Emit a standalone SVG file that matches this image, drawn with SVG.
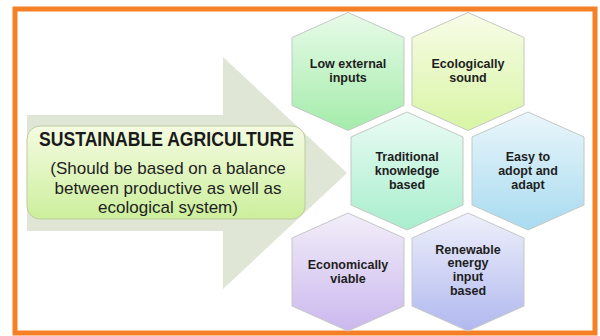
<svg xmlns="http://www.w3.org/2000/svg" width="600" height="336" viewBox="0 0 600 336">
<defs>
<linearGradient id="gBox" x1="0" y1="0" x2="0" y2="1"><stop offset="0" stop-color="#f4fbe2"/><stop offset="1" stop-color="#cdef9c"/></linearGradient>
<linearGradient id="g1" x1="0" y1="0" x2="0" y2="1"><stop offset="0" stop-color="#e8fbe9"/><stop offset="1" stop-color="#a4ecaa"/></linearGradient>
<linearGradient id="g2" x1="0" y1="0" x2="0" y2="1"><stop offset="0" stop-color="#f8fce8"/><stop offset="1" stop-color="#d8f5a4"/></linearGradient>
<linearGradient id="g3" x1="0" y1="0" x2="0" y2="1"><stop offset="0" stop-color="#eafbf4"/><stop offset="1" stop-color="#a8eecd"/></linearGradient>
<linearGradient id="g4" x1="0" y1="0" x2="0" y2="1"><stop offset="0" stop-color="#eaf6fb"/><stop offset="1" stop-color="#a8dbef"/></linearGradient>
<linearGradient id="g5" x1="0" y1="0" x2="0" y2="1"><stop offset="0" stop-color="#f2eef9"/><stop offset="1" stop-color="#cbb8ee"/></linearGradient>
<linearGradient id="g6" x1="0" y1="0" x2="0" y2="1"><stop offset="0" stop-color="#eef0fb"/><stop offset="1" stop-color="#b1b8ef"/></linearGradient>
<polygon id="hex" points="0,-59 56,-34 56,34 0,59 -56,34 -56,-34"/>
</defs>
<style>
.hx{stroke:#c4c8c4;stroke-width:1}
.ht{font-family:"Liberation Sans",Arial,sans-serif;font-weight:bold;font-size:12.5px;fill:#1e1e1e;text-anchor:middle}
.sub{font-family:"Liberation Sans",Arial,sans-serif;font-size:17px;fill:#1e1e1e;text-anchor:middle}
</style>
<rect x="0" y="0" width="600" height="336" fill="#ffffff"/>
<rect x="15" y="9" width="580" height="324" fill="#ffffff" stroke="#f58025" stroke-width="5"/>
<g id="arrow">
<polygon points="27,115 223,115 223,57 347,173 223,289 223,231 27,231" fill="#dfe6d5"/>
</g>
<g id="main">
<rect x="27" y="126" width="278" height="93" rx="13" fill="url(#gBox)" stroke="#bccca0" stroke-width="1"/>
<text x="166.5" y="146" font-family="'Liberation Sans',Arial,sans-serif" font-weight="bold" font-size="19.5" fill="#1a1a1a" text-anchor="middle" textLength="255" lengthAdjust="spacingAndGlyphs">SUSTAINABLE AGRICULTURE</text>
<text class="sub" x="168" y="174">(Should be based on a balance</text>
<text class="sub" x="168" y="193.5">between productive as well as</text>
<text class="sub" x="168" y="213">ecological system)</text>
</g>
<g id="hex1" transform="translate(348,71.5)">
<use href="#hex" class="hx" fill="url(#g1)"/>
<text class="ht" y="-3.5">Low external</text>
<text class="ht" y="10">inputs</text>
</g>
<g id="hex2" transform="translate(468,71.5)">
<use href="#hex" class="hx" fill="url(#g2)"/>
<text class="ht" y="-3.5">Ecologically</text>
<text class="ht" y="10">sound</text>
</g>
<g id="hex3" transform="translate(407,171)">
<use href="#hex" class="hx" fill="url(#g3)"/>
<text class="ht" y="-10">Traditional</text>
<text class="ht" y="4">knowledge</text>
<text class="ht" y="17.5">based</text>
</g>
<g id="hex4" transform="translate(528,171)">
<use href="#hex" class="hx" fill="url(#g4)"/>
<text class="ht" y="-10">Easy to</text>
<text class="ht" y="4">adopt and</text>
<text class="ht" y="17.5">adapt</text>
</g>
<g id="hex5" transform="translate(348,272)">
<use href="#hex" class="hx" fill="url(#g5)"/>
<text class="ht" y="-3">Economically</text>
<text class="ht" y="10.5">viable</text>
</g>
<g id="hex6" transform="translate(468,272)">
<use href="#hex" class="hx" fill="url(#g6)"/>
<text class="ht" y="-18.5">Renewable</text>
<text class="ht" y="-5">energy</text>
<text class="ht" y="8.5">input</text>
<text class="ht" y="22.5">based</text>
</g>
<g id="connectors"></g>
</svg>
